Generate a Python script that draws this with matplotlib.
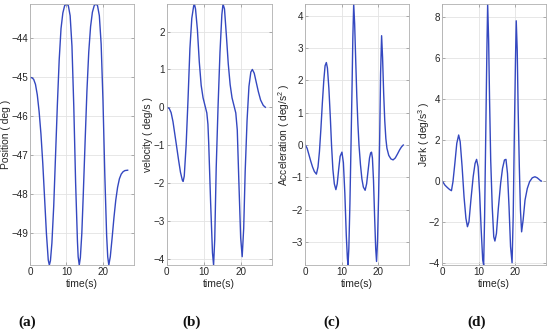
import matplotlib
matplotlib.use("Agg")
import matplotlib.pyplot as plt

plt.rcParams['font.family'] = ['Liberation Sans', 'DejaVu Sans']
plt.rcParams['mathtext.fontset'] = 'custom'
plt.rcParams['mathtext.rm'] = 'Liberation Sans'
plt.rcParams['mathtext.it'] = 'Liberation Sans'

# ---- data ----
pos_t = [0.0, 0.5, 1.0, 1.5, 2.0, 2.5, 3.0, 3.5, 4.0, 4.5, 5.0, 5.3, 5.6, 6.0, 6.5, 7.0,
         7.5, 8.0, 8.5, 9.0, 9.5, 10.05, 10.5, 11.0, 11.5, 12.0, 12.5, 13.0, 13.2, 13.5,
         13.8, 14.2, 14.6, 15.1, 15.6, 16.1, 16.6, 17.1, 17.6, 18.08, 18.5, 19.0, 19.5,
         20.0, 20.5, 21.0, 21.3, 21.6, 22.0, 22.5, 23.0, 23.5, 24.0, 24.5, 25.0, 25.5,
         26.0, 26.76]
pos_v = [-45.0, -45.01, -45.05, -45.18, -45.45, -45.88, -46.45, -47.2, -48.1, -49.0,
         -49.68, -49.81, -49.7, -49.25, -48.3, -47.0, -45.7, -44.55, -43.75, -43.35,
         -43.16, -43.12, -43.16, -43.42, -44.2, -45.75, -47.7, -49.2, -49.6, -49.81,
         -49.62, -49.0, -48.0, -46.65, -45.35, -44.35, -43.7, -43.33, -43.16, -43.12,
         -43.16, -43.42, -44.15, -45.6, -47.5, -49.05, -49.6, -49.81, -49.6, -49.12,
         -48.6, -48.15, -47.82, -47.6, -47.48, -47.42, -47.39, -47.38]

vel_t = [0.0, 0.68, 1.19, 1.7, 2.21, 2.72, 3.22, 3.73, 4.24, 4.45, 4.75, 5.26, 5.77,
         6.28, 6.79, 7.3, 7.5, 7.8, 8.31, 8.82, 9.33, 9.84, 10.35, 10.86, 11.16, 11.37,
         11.88, 12.39, 12.69, 13.0, 13.4, 13.91, 14.42, 14.93, 15.24, 15.64, 16.15,
         16.66, 17.17, 17.68, 18.19, 18.7, 19.1, 19.51, 20.02, 20.43, 20.84, 21.24,
         21.75, 22.26, 22.77, 23.18, 23.69, 24.19, 24.81, 25.42, 26.13, 26.7]
vel_v = [0.0, -0.03, -0.14, -0.38, -0.72, -1.06, -1.4, -1.72, -1.93, -1.96, -1.82, -1.0,
         0.2, 1.55, 2.35, 2.68, 2.73, 2.6, 2.05, 1.2, 0.58, 0.25, 0.05, -0.15, -0.45,
         -0.95, -2.5, -3.85, -4.17, -3.5, -1.6, 0.05, 1.45, 2.45, 2.73, 2.6, 1.9, 1.15,
         0.6, 0.25, 0.05, -0.15, -0.6, -1.9, -3.45, -3.95, -3.2, -1.7, -0.35, 0.55,
         0.93, 1.0, 0.9, 0.68, 0.41, 0.19, 0.05, 0.0]

acc_t = [0.0, 0.5, 1.0, 1.5, 2.0, 2.5, 3.06, 3.5, 3.9, 4.3, 4.7, 5.1, 5.45, 5.8, 6.1,
         6.5, 6.9, 7.23, 7.6, 8.0, 8.43, 8.8, 9.2, 9.6, 10.1, 10.5, 10.9, 11.3, 11.6,
         11.77, 12.0, 12.3, 12.6, 12.9, 13.1, 13.34, 13.6, 13.9, 14.2, 14.5, 14.8, 15.2,
         15.6, 16.0, 16.49, 16.9, 17.3, 17.7, 18.0, 18.25, 18.5, 18.8, 19.1, 19.4, 19.64,
         19.9, 20.2, 20.5, 20.75, 21.03, 21.3, 21.6, 21.9, 22.2, 22.5, 23.0, 23.6, 24.2,
         24.8, 25.4, 26.0, 26.5, 27.0]
acc_v = [0.0, -0.1, -0.3, -0.5, -0.68, -0.82, -0.9, -0.68, -0.2, 0.5, 1.3, 2.0, 2.45,
         2.55, 2.38, 1.75, 0.85, 0.0, -0.75, -1.2, -1.38, -1.2, -0.75, -0.35, -0.22,
         -0.55, -1.5, -2.8, -3.5, -3.71, -3.2, -1.8, 0.0, 1.9, 3.3, 4.36, 3.75, 2.6,
         1.5, 0.65, 0.0, -0.6, -1.05, -1.3, -1.4, -1.2, -0.8, -0.4, -0.25, -0.22, -0.4,
         -1.1, -2.2, -3.2, -3.6, -3.0, -1.6, 0.2, 2.2, 3.38, 2.7, 1.6, 0.75, 0.2, -0.1,
         -0.32, -0.43, -0.46, -0.4, -0.28, -0.15, -0.06, 0.0]

jerk_t = [0.0, 0.73, 1.36, 1.99, 2.52, 2.94, 3.46, 3.99, 4.51, 4.93, 5.46, 5.99, 6.51,
          6.93, 7.35, 7.88, 8.51, 9.03, 9.45, 9.87, 10.29, 10.72, 11.14, 11.4, 11.66,
          11.98, 12.29, 12.5, 12.77, 13.03, 13.34, 13.76, 14.18, 14.5, 14.92, 15.44,
          16.08, 16.6, 17.13, 17.55, 17.97, 18.39, 18.81, 19.23, 19.54, 19.86, 20.17,
          20.38, 20.65, 20.91, 21.23, 21.54, 21.86, 22.28, 22.8, 23.43, 24.06, 24.8,
          25.53, 26.16, 26.69, 27.2, 27.3]
jerk_v = [0.0, -0.2, -0.31, -0.41, -0.47, -0.03, 0.86, 1.84, 2.25, 1.92, 0.7, -0.77,
          -1.82, -2.23, -1.99, -0.93, 0.21, 0.86, 1.06, 0.7, -0.6, -2.39, -3.86, -4.1,
          -1.74, 2.33, 6.4, 8.65, 6.89, 3.96, 1.03, -1.25, -2.72, -2.93, -2.56, -1.34,
          -0.11, 0.62, 1.03, 1.06, 0.37, -1.25, -3.2, -3.99, -1.74, 2.33, 5.91, 7.83,
          6.4, 3.47, 0.7, -1.42, -2.48, -1.9, -0.93, -0.36, -0.03, 0.16, 0.21, 0.16,
          0.08, 0.0, 0.0]

x_ticks = [0, 10, 20]
ylabels = ['Position ( deg )', 'velocity ( deg/s )',
           'Acceleration ( deg/s$^2$ )', 'Jerk ( deg/s$^3$ )']
panel_tags = ['(a)', '(b)', '(c)', '(d)']
y_ticks = [[-49, -48, -47, -46, -45, -44],
           [-4, -3, -2, -1, 0, 1, 2],
           [-3, -2, -1, 0, 1, 2, 3, 4],
           [-4, -2, 0, 2, 4, 6, 8]]
series = [(pos_t, pos_v), (vel_t, vel_v), (acc_t, acc_v), (jerk_t, jerk_v)]

# ---- layout ----
W, H = 550, 333
fig = plt.figure(figsize=(W / 100, H / 100), dpi=100)
lefts = [30, 166.7, 305.3, 442.3]
widths = [104, 105.3, 103.4, 103.4]
ylab_x = [6, 148, 284.5, 424.5]
top_px, bot_px = 4, 265
tag_x = [27, 192, 332, 477]
line_color = '#3448c0'

for i, (t, v) in enumerate(series):
    ax = fig.add_axes([lefts[i] / W, 1 - bot_px / H, widths[i] / W, (bot_px - top_px) / H])
    ax.plot(t, v, color=line_color, lw=1.0)
    ax.set_xlim(0, 28.5)
    ax.set_ylim(min(v), max(v))
    ax.set_xticks(x_ticks)
    ax.set_yticks(y_ticks[i])
    ax.grid(True, color='#e3e3e3', lw=0.6)
    ax.set_axisbelow(True)
    for s in ax.spines.values():
        s.set_color('#b0b0b0')
        s.set_linewidth(0.6)
    ax.tick_params(direction='in', length=2, width=0.5, color='#909090',
                   labelsize=7.1, labelcolor='#262626', pad=1.5,
                   top=True, right=True)
    ax.set_xlabel('time(s)', fontsize=7.5, color='#262626', labelpad=1.5)
    ax.set_ylabel(ylabels[i], fontsize=7.4, color='#262626', va='center')
    ax.yaxis.set_label_coords((ylab_x[i] - lefts[i]) / widths[i], 0.5)
    fig.text(tag_x[i] / W, 1 - 322 / H, panel_tags[i], ha='center', va='center',
             fontsize=11, fontweight='bold', family='Liberation Serif', color='#111111')

fig.savefig('out.png', dpi=100)
